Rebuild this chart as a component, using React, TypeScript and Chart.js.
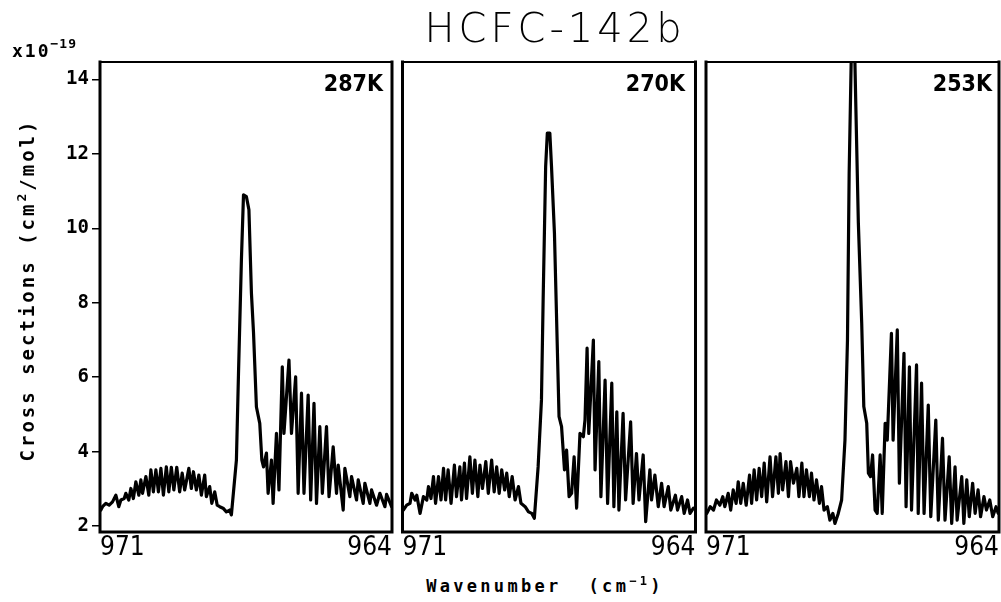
import React, { useEffect, useRef } from 'react';
import { Chart, registerables } from 'chart.js';

Chart.register(...registerables);

// ---- axis settings ----
const X_MIN = 964;
const X_MAX = 971;
const Y_MIN = 1.84;
const Y_MAX = 14.47;
const yTickValues = [2, 4, 6, 8, 10, 12, 14];
const xTickValues = [964, 971];
const temperatures = ['287K', '270K', '253K'];

// ---- 287 K ----
const wn287 = [
  970.98, 970.94, 970.86, 970.78, 970.70, 970.62, 970.55, 970.50, 970.42, 970.38,
  970.31, 970.26, 970.20, 970.14, 970.07, 970.02, 969.98, 969.90, 969.83, 969.78,
  969.72, 969.66, 969.60, 969.54, 969.48, 969.41, 969.35, 969.29, 969.23, 969.16,
  969.09, 969.03, 968.97, 968.87, 968.81, 968.76, 968.69, 968.63, 968.57, 968.49,
  968.45, 968.37, 968.32, 968.25, 968.19, 968.13, 968.05, 967.97, 967.89, 967.85,
  967.73, 967.68, 967.61, 967.56, 967.49, 967.43, 967.37, 967.32, 967.25, 967.17,
  967.12, 967.08, 967.01, 966.97, 966.89, 966.85, 966.77, 966.71, 966.63, 966.59,
  966.47, 966.41, 966.31, 966.25, 966.17, 966.11, 966.01, 965.95, 965.87, 965.81,
  965.73, 965.67, 965.57, 965.51, 965.41, 965.33, 965.29, 965.17, 965.13, 965.01,
  964.97, 964.85, 964.81, 964.69, 964.65, 964.53, 964.49, 964.37, 964.29, 964.17,
  964.13, 964.01,
];
const cs287 = [
  2.43, 2.52, 2.61, 2.56, 2.65, 2.83, 2.52, 2.70, 2.74, 2.88,
  2.70, 3.01, 2.74, 3.19, 2.83, 3.24, 2.88, 3.33, 2.83, 3.51,
  2.92, 3.51, 2.92, 3.55, 2.83, 3.59, 2.92, 3.58, 2.97, 3.58,
  2.92, 3.42, 2.97, 3.55, 3.01, 3.46, 2.97, 3.37, 2.83, 3.37,
  2.79, 3.06, 2.61, 2.92, 2.56, 2.52, 2.48, 2.38, 2.43, 2.30,
  3.77, 6.10, 9.15, 10.90, 10.85, 10.50, 8.26, 7.20, 5.20, 4.76,
  3.77, 3.59, 3.96, 2.88, 3.77, 2.61, 4.49, 2.97, 6.28, 4.49,
  6.46, 4.49, 6.01, 2.88, 5.57, 2.88, 5.52, 2.70, 5.30, 2.61,
  4.67, 2.88, 4.67, 2.79, 4.13, 2.88, 3.64, 2.43, 3.55, 2.79,
  3.33, 2.70, 3.24, 2.61, 3.15, 2.61, 2.97, 2.56, 2.88, 2.52,
  2.85, 2.52,
];

// ---- 270 K ----
const wn270 = [
  970.98, 970.90, 970.82, 970.78, 970.70, 970.66, 970.58, 970.50, 970.42, 970.38,
  970.32, 970.26, 970.21, 970.14, 970.08, 970.02, 969.97, 969.91, 969.84, 969.76,
  969.71, 969.63, 969.59, 969.52, 969.47, 969.39, 969.33, 969.27, 969.20, 969.15,
  969.09, 969.01, 968.95, 968.87, 968.81, 968.75, 968.69, 968.63, 968.56, 968.51,
  968.45, 968.38, 968.31, 968.23, 968.17, 968.07, 967.99, 967.91, 967.85, 967.76,
  967.68, 967.64, 967.58, 967.54, 967.48, 967.44, 967.37, 967.32, 967.26, 967.20,
  967.13, 967.08, 967.02, 966.96, 966.90, 966.84, 966.76, 966.68, 966.64, 966.59,
  966.55, 966.44, 966.40, 966.31, 966.26, 966.16, 966.10, 966.00, 965.95, 965.88,
  965.83, 965.73, 965.67, 965.55, 965.49, 965.41, 965.35, 965.25, 965.19, 965.09,
  965.05, 964.97, 964.89, 964.81, 964.75, 964.65, 964.59, 964.48, 964.43, 964.33,
  964.27, 964.19, 964.13, 964.05,
];
const cs270 = [
  2.43, 2.56, 2.61, 2.88, 2.70, 2.83, 2.34, 2.79, 2.70, 3.06,
  2.74, 3.33, 2.61, 3.33, 2.70, 3.55, 2.70, 3.51, 2.61, 3.64,
  2.79, 3.59, 2.70, 3.69, 2.74, 3.86, 2.88, 3.77, 2.79, 3.64,
  3.01, 3.73, 2.88, 3.77, 2.92, 3.59, 2.88, 3.51, 2.97, 3.42,
  2.79, 3.33, 2.70, 3.06, 2.61, 2.52, 2.38, 2.34, 2.21, 3.59,
  5.39, 8.08, 11.66, 12.56, 12.56, 11.66, 9.87, 7.63, 4.94, 4.67,
  3.51, 4.04, 2.79, 2.88, 3.86, 2.48, 4.49, 4.40, 4.85, 6.78,
  4.49, 7.00, 3.51, 6.42, 2.79, 5.92, 2.61, 5.84, 2.52, 5.07,
  2.43, 5.03, 2.70, 4.80, 2.61, 3.95, 2.70, 3.91, 2.12, 3.51,
  2.70, 3.37, 2.52, 3.15, 2.52, 3.06, 2.43, 2.83, 2.43, 2.79,
  2.34, 2.70, 2.34, 2.48,
];

// ---- 253 K ----
const wn253 = [
  970.98, 970.90, 970.82, 970.75, 970.67, 970.60, 970.55, 970.47, 970.41, 970.35,
  970.28, 970.23, 970.17, 970.11, 970.04, 969.96, 969.91, 969.85, 969.79, 969.73,
  969.67, 969.61, 969.55, 969.47, 969.41, 969.33, 969.27, 969.23, 969.17, 969.09,
  969.03, 968.98, 968.91, 968.83, 968.78, 968.71, 968.66, 968.60, 968.53, 968.48,
  968.42, 968.36, 968.29, 968.24, 968.18, 968.10, 968.04, 967.97, 967.92, 967.84,
  967.76, 967.68, 967.62, 967.58, 967.52, 967.46, 967.42, 967.36, 967.28, 967.23,
  967.16, 967.12, 967.07, 967.02, 966.96, 966.91, 966.84, 966.79, 966.72, 966.67,
  966.61, 966.57, 966.53, 966.43, 966.38, 966.27, 966.22, 966.14, 966.09, 965.97,
  965.93, 965.85, 965.79, 965.69, 965.63, 965.51, 965.45, 965.35, 965.29, 965.19,
  965.13, 965.05, 965.00, 964.89, 964.84, 964.77, 964.71, 964.63, 964.57, 964.50,
  964.44, 964.36, 964.30, 964.22, 964.15, 964.07, 964.02,
];
const cs253 = [
  2.34, 2.52, 2.43, 2.70, 2.56, 2.79, 2.52, 2.88, 2.43, 2.97,
  2.61, 3.19, 2.61, 3.15, 2.56, 3.37, 2.61, 3.51, 2.70, 3.55,
  2.79, 3.69, 2.65, 3.86, 2.79, 3.86, 2.88, 3.95, 2.97, 3.73,
  2.79, 3.73, 3.15, 3.55, 2.79, 3.69, 2.79, 3.51, 2.79, 3.42,
  2.70, 3.24, 2.61, 3.06, 2.43, 2.52, 2.16, 2.34, 2.07, 2.34,
  2.70, 4.31, 7.00, 11.48, 15.20, 15.40, 13.27, 10.14, 7.45, 5.21,
  4.76, 3.42, 3.33, 3.91, 2.43, 2.34, 3.91, 2.34, 4.76, 4.31,
  6.01, 7.18, 4.31, 7.27, 3.15, 6.64, 2.52, 6.28, 2.43, 6.33,
  2.34, 5.84, 2.34, 5.25, 2.25, 4.85, 2.16, 4.36, 2.16, 3.86,
  2.07, 3.59, 2.16, 3.33, 2.07, 3.24, 2.25, 3.15, 2.34, 2.97,
  2.25, 2.79, 2.43, 2.70, 2.25, 2.52, 2.34,
];

const CANVAS_H = 570;
const AREA_TOP = 62;
const AREA_BOTTOM = 532;

const framePlugin = {
  id: 'panelFrame',
  afterDraw(chart: any) {
    const { ctx, chartArea } = chart;
    const { left, right, top, bottom } = chartArea;
    ctx.save();
    ctx.strokeStyle = '#000';
    ctx.lineCap = 'square';
    ctx.lineWidth = 2;
    ctx.beginPath();
    ctx.moveTo(left, top);
    ctx.lineTo(right, top);
    ctx.stroke();
    ctx.lineWidth = 3;
    ctx.beginPath();
    ctx.moveTo(left, top);
    ctx.lineTo(left, bottom);
    ctx.lineTo(right, bottom);
    ctx.lineTo(right, top);
    ctx.stroke();
    ctx.restore();
  },
};

type PanelProps = {
  wn: number[];
  cs: number[];
  showY: boolean;
  left: number;
  width: number;
  padLeft: number;
  padRight: number;
  yAxisWidth: number;
};

function Panel({ wn, cs, showY, left, width, padLeft, padRight, yAxisWidth }: PanelProps) {
  const ref = useRef<HTMLCanvasElement>(null);
  useEffect(() => {
    const chart = new Chart(ref.current as HTMLCanvasElement, {
      type: 'line',
      data: {
        datasets: [
          {
            data: wn.map((x, i) => ({ x, y: cs[i] })),
            borderColor: '#000',
            borderWidth: 3.2,
            borderJoinStyle: 'round',
            borderCapStyle: 'round',
            pointRadius: 0,
            tension: 0,
            fill: false,
          },
        ],
      },
      options: {
        animation: false,
        responsive: false,
        devicePixelRatio: 1,
        layout: { padding: { left: padLeft, right: padRight, top: AREA_TOP, bottom: 0 } },
        plugins: { legend: { display: false }, tooltip: { enabled: false } },
        scales: {
          x: {
            type: 'linear',
            reverse: true,
            min: X_MIN,
            max: X_MAX,
            afterBuildTicks: (s: any) => {
              s.ticks = xTickValues.map((v) => ({ value: v }));
            },
            afterFit: (s: any) => {
              s.height = CANVAS_H - AREA_BOTTOM;
            },
            grid: { display: false, drawTicks: false },
            border: { display: false },
            ticks: {
              align: 'inner',
              padding: 1,
              color: '#000',
              autoSkip: false,
              maxRotation: 0,
              font: { family: "'Liberation Sans Narrow', 'DejaVu Sans Condensed', sans-serif", size: 26 },
              callback: (v: any) => String(v),
            },
          },
          y: {
            type: 'linear',
            display: showY,
            min: Y_MIN,
            max: Y_MAX,
            afterBuildTicks: (s: any) => {
              s.ticks = yTickValues.map((v) => ({ value: v }));
            },
            afterFit: (s: any) => {
              s.width = yAxisWidth;
            },
            grid: {
              display: true,
              drawOnChartArea: false,
              drawTicks: true,
              tickLength: 8,
              color: '#000',
              lineWidth: 1.5,
            },
            border: { display: false },
            ticks: {
              padding: 3,
              color: '#000',
              font: { family: "'DejaVu Sans Mono', monospace", size: 19, weight: 'bold' },
              callback: (v: any) => String(v),
            },
          },
        },
      } as any,
      plugins: [framePlugin],
    });
    return () => chart.destroy();
  }, []);
  return (
    <canvas
      ref={ref}
      width={width}
      height={CANVAS_H}
      style={{ position: 'absolute', left, top: 0, width, height: CANVAS_H }}
    />
  );
}

const mono = "'DejaVu Sans Mono', monospace";
const narrow = "'Liberation Sans Narrow', 'DejaVu Sans Condensed', sans-serif";

export default function App() {
  const labelRights = [383, 685, 992];
  return (
    <div style={{ position: 'absolute', left: 0, top: 0, width: 1001, height: 602, background: '#fff', overflow: 'hidden' }}>
      <Panel wn={wn287} cs={cs287} showY={true} left={0} width={397} padLeft={0} padRight={5} yAxisWidth={100} />
      <Panel wn={wn270} cs={cs270} showY={false} left={395} width={310} padLeft={7.5} padRight={9.5} yAxisWidth={0} />
      <Panel wn={wn253} cs={cs253} showY={false} left={700} width={301} padLeft={6} padRight={2} yAxisWidth={0} />

      {temperatures.map((t, i) => (
        <div
          key={t}
          style={{
            position: 'absolute', left: labelRights[i] - 100, width: 100, top: 71.5,
            textAlign: 'right', fontFamily: narrow, fontSize: 23, lineHeight: '23px', fontWeight: 'bold', color: '#000',
          }}
        >
          {t}
        </div>
      ))}

      <div
        style={{
          position: 'absolute', left: 355, width: 400, top: 8, textAlign: 'center',
          fontFamily: "'DejaVu Sans', sans-serif", fontWeight: 200, fontSize: 40, lineHeight: '40px',
          letterSpacing: 4, color: '#000',
        }}
      >
        HCFC-142b
      </div>

      <div
        style={{
          position: 'absolute', left: 12, top: 42, fontFamily: mono, fontWeight: 'bold', fontSize: 18,
          lineHeight: '18px', letterSpacing: 2, color: '#000', whiteSpace: 'nowrap',
        }}
      >
        x10<span style={{ fontSize: 13, position: 'relative', top: -9, letterSpacing: 1 }}>−19</span>
      </div>

      <div
        style={{
          position: 'absolute', left: 27 - 190, top: 290 - 12, width: 380, height: 24, lineHeight: '24px',
          textAlign: 'center', transform: 'rotate(-90deg)', fontFamily: mono, fontWeight: 'bold', fontSize: 19,
          letterSpacing: 3, color: '#000', whiteSpace: 'nowrap',
        }}
      >
        Cross sections (cm<span style={{ fontSize: 13, position: 'relative', top: -8 }}>2</span>/mol)
      </div>

      <div
        style={{
          position: 'absolute', left: 345, width: 400, top: 578, textAlign: 'center', fontFamily: mono,
          fontWeight: 'bold', fontSize: 17, lineHeight: '17px', letterSpacing: 3.3, color: '#000', whiteSpace: 'pre',
        }}
      >
        Wavenumber  (cm<span style={{ fontSize: 12, position: 'relative', top: -7 }}>−1</span>)
      </div>
    </div>
  );
}
